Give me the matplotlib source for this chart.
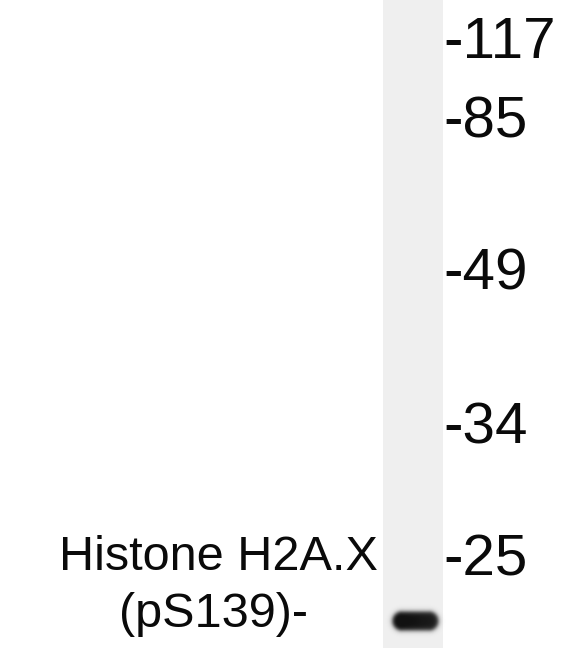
import numpy as np
import matplotlib
matplotlib.use("Agg")
import matplotlib.pyplot as plt
from matplotlib.patches import Rectangle

# ---- data ----
marker_labels = ["-117", "-85", "-49", "-34", "-25"]
marker_baseline_y = [58, 137, 290, 444, 575]
protein_lines = ["Histone H2A.X", "(pS139)-"]
protein_line_x = [218, 214]
protein_line_baseline = [570, 627]
lane_x = [383, 443]
band_center = (415, 621)
band_size = (49, 22)

W, H = 585, 648
fig = plt.figure(figsize=(W / 100, H / 100), dpi=100)
ax = fig.add_axes([0, 0, 1, 1])
ax.set_xlim(0, W)
ax.set_ylim(H, 0)
ax.axis("off")

# lane
ax.add_patch(Rectangle((lane_x[0], 0), lane_x[1] - lane_x[0], H,
                       facecolor="#efefef", edgecolor="none", zorder=1))

# band as a soft capsule image
bx, by = band_center
bw, bh = band_size
x0, x1 = bx - bw / 2 - 6, bx + bw / 2 + 6
y0, y1 = by - bh / 2 - 6, by + bh / 2 + 6
nx, ny = int((x1 - x0) * 4), int((y1 - y0) * 4)
xs = np.linspace(x0, x1, nx)
ys = np.linspace(y0, y1, ny)
XX, YY = np.meshgrid(xs, ys)
r = bh / 2
half = bw / 2 - r
dx = np.clip(np.abs(XX - bx) - half, 0, None)
dy = YY - by
d = np.sqrt(dx ** 2 + dy ** 2) - r
alpha = 1 / (1 + np.exp((d + 1.5) / 1.3))
shade = 0.9 + 0.1 * np.clip((bx + bw / 2 - XX) / bw, 0, 1)
alpha = alpha * shade
rgba = np.zeros((ny, nx, 4))
rgba[..., 0] = 0.07
rgba[..., 1] = 0.07
rgba[..., 2] = 0.07
rgba[..., 3] = np.clip(alpha * 1.05, 0, 1)
ax.imshow(rgba, extent=(x0, x1, y1, y0), interpolation="bilinear", zorder=2, aspect="auto")

# markers
for lab, yb in zip(marker_labels, marker_baseline_y):
    ax.text(443, yb, lab, ha="left", va="baseline", fontsize=42,
            family="Liberation Sans", color="#0a0a0a", zorder=3)

# protein label
for lab, xc, yb in zip(protein_lines, protein_line_x, protein_line_baseline):
    ax.text(xc, yb, lab, ha="center", va="baseline", fontsize=35,
            family="Liberation Sans", color="#0a0a0a", zorder=3)

fig.savefig("out.png", dpi=100)
